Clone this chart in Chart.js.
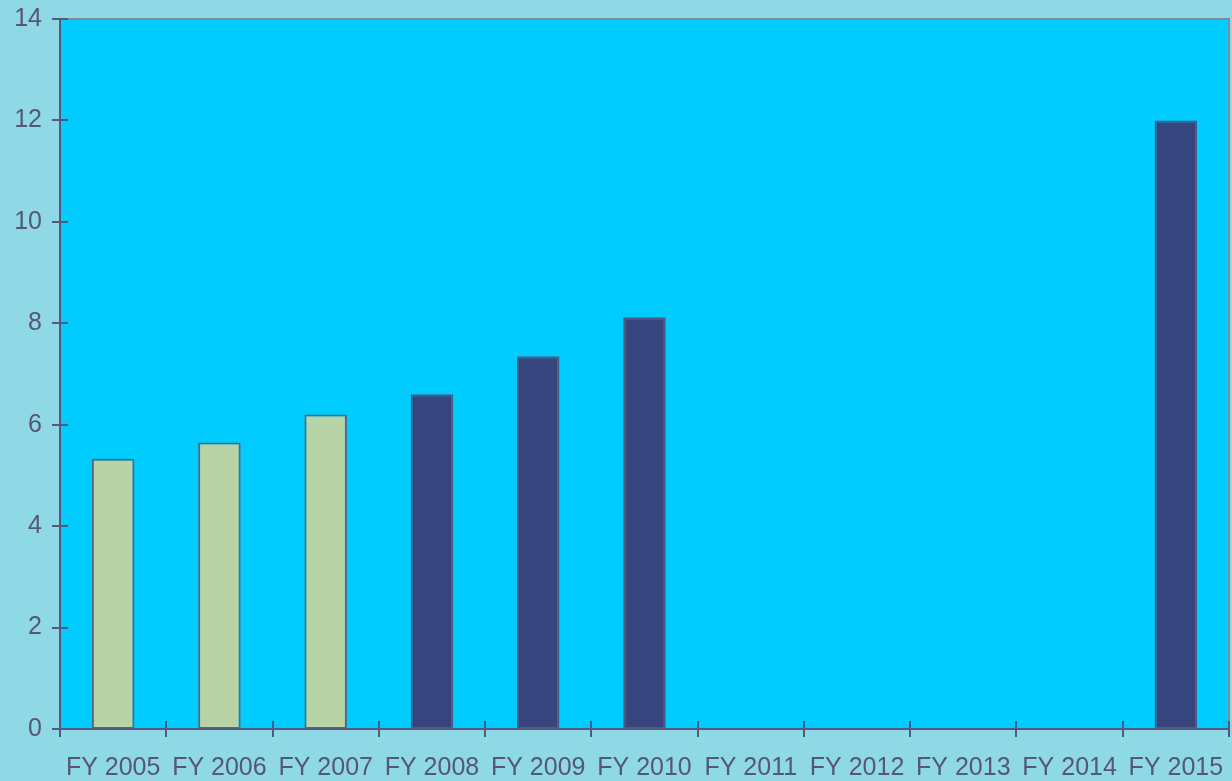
<!DOCTYPE html>
<html>
<head>
<meta charset="utf-8">
<script src="https://cdn.jsdelivr.net/npm/chart.js@4/dist/chart.umd.min.js"></script>
<style>
html,body{margin:0;padding:0;background:#8fd8e6;}
#wrap{width:1232px;height:781px;position:relative;}
</style>
</head>
<body>
<div id="wrap"><canvas id="c" width="1232" height="781"></canvas></div>
<script>
const categories = ["FY 2005","FY 2006","FY 2007","FY 2008","FY 2009","FY 2010","FY 2011","FY 2012","FY 2013","FY 2014","FY 2015"];
const actualValues = [5.33, 5.65, 6.2, null, null, null, null, null, null, null, null];
const projectedValues = [null, null, null, 6.6, 7.35, 8.12, null, null, null, null, 12];
const yTicks = [0, 2, 4, 6, 8, 10, 12, 14];

const textColor = '#565676';
const axisColor = '#555878';

const framePlugin = {
  id: 'frame',
  beforeDatasetsDraw(chart) {
    const {ctx, chartArea: a} = chart;
    ctx.save();
    ctx.fillStyle = '#00ccff';
    ctx.fillRect(a.left, a.top, a.right - a.left, a.bottom - a.top);
    ctx.restore();
  },
  afterDatasetsDraw(chart) {
    const {ctx, chartArea: a, scales} = chart;
    ctx.save();
    ctx.strokeStyle = '#7f8a96';
    ctx.lineWidth = 2;
    ctx.beginPath();
    ctx.moveTo(a.left, a.top); ctx.lineTo(a.right, a.top); ctx.lineTo(a.right, a.bottom);
    ctx.stroke();
    ctx.strokeStyle = axisColor;
    ctx.lineWidth = 2;
    ctx.beginPath();
    ctx.moveTo(a.left, a.top - 1); ctx.lineTo(a.left, a.bottom); ctx.lineTo(a.right, a.bottom);
    ctx.stroke();
    yTicks.forEach(v => {
      const y = Math.round(scales.y.getPixelForValue(v));
      ctx.beginPath();
      ctx.moveTo(a.left - 8, y); ctx.lineTo(a.left + 8, y);
      ctx.stroke();
    });
    const half = (scales.x.getPixelForValue(1) - scales.x.getPixelForValue(0)) / 2;
    for (let i = 0; i <= categories.length; i++) {
      const x = Math.round(scales.x.getPixelForValue(i) - half);
      ctx.beginPath();
      ctx.moveTo(x, a.bottom - 8); ctx.lineTo(x, a.bottom + 8);
      ctx.stroke();
    }
    ctx.restore();
  }
};

new Chart(document.getElementById('c'), {
  type: 'bar',
  data: {
    labels: categories,
    datasets: [
      {label: 'Actual', data: actualValues, backgroundColor: '#b8d3a5', borderColor: '#586480', borderWidth: 2, borderSkipped: false},
      {label: 'Projected', data: projectedValues, backgroundColor: '#37457f', borderColor: '#4f5a80', borderWidth: 2, borderSkipped: false}
    ]
  },
  options: {
    responsive: false,
    animation: false,
    devicePixelRatio: 1,
    layout: {padding: {top: 19, right: 3, left: 0, bottom: 0}},
    plugins: {legend: {display: false}, tooltip: {enabled: false}},
    datasets: {bar: {grouped: false, barPercentage: 0.4, categoryPercentage: 1.0}},
    scales: {
      x: {
        offset: true,
        grid: {display: false, drawTicks: false},
        border: {display: false},
        ticks: {color: textColor, font: {family: 'Liberation Sans, Arial, sans-serif', size: 25}, padding: 24, maxRotation: 0, autoSkip: false},
        afterFit(s) { s.height = 52; s.paddingLeft = 0; s.paddingRight = 0; }
      },
      y: {
        min: 0, max: 14,
        afterBuildTicks(s) { s.ticks = yTicks.map(v => ({value: v})); },
        grid: {display: false, drawTicks: false},
        border: {display: false},
        ticks: {color: textColor, font: {family: 'Liberation Sans, Arial, sans-serif', size: 25}, padding: 18},
        afterFit(s) { s.width = 60; s.paddingTop = 0; s.paddingBottom = 0; }
      }
    }
  },
  plugins: [framePlugin]
});
</script>
</body>
</html>
